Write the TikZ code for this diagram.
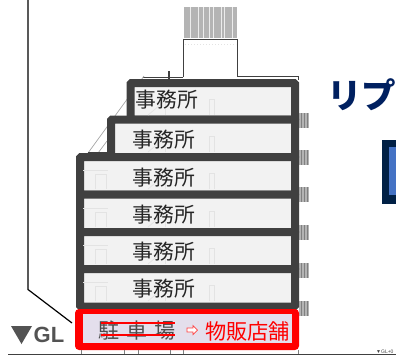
\documentclass[tikz,border=0pt]{standalone}
\usepackage{fontspec}
\usepackage{xcolor}
\setmainfont{Noto Sans CJK JP}
\newfontfamily\glfont{Liberation Sans}
\definecolor{slab}{HTML}{404040}
\definecolor{room}{HTML}{F2F2F2}
\definecolor{shop}{HTML}{E4DFEC}
\definecolor{navy}{HTML}{002060}
\definecolor{deepnavy}{HTML}{002045}
\definecolor{panel}{HTML}{4472C4}
\definecolor{hatch}{HTML}{B4B4B4}
\definecolor{faint}{HTML}{E3E3E3}
\usetikzlibrary{positioning}
\usetikzlibrary{calc}
\tikzset{
	floor/.style={draw=slab, line width=8pt, fill=room, rounded corners=1pt},
	office/.style={font=\fontsize{20.8}{20}\selectfont, text=black!85, inner sep=0pt},
	shoplabel/.style={font=\fontsize{21.2}{20}\selectfont, text=red, inner sep=0pt},
	rail/.style={fill=hatch, draw=none},
	partition/.style={draw=faint, line width=0.7pt},
}
\begin{document}
\begin{tikzpicture}[x=1pt, y=-1pt]
\useasboundingbox (0,0) rectangle (396,357);

\coordinate (boundary top) at (28,0);
\coordinate (boundary bend) at (28,289.5);
\coordinate (boundary end) at (72,323);
\coordinate (ground left) at (8,354);
\coordinate (ground right) at (396,354);

% penthouse and roof
\fill[rail] (184,7) rectangle (237,38);
\foreach \x in {190,198,203,209,213,221,224,232}
	\draw[white!85!gray, line width=0.7pt] (\x,7) -- (\x,38);
\draw[slab, line width=1pt] (183.5,77) -- (183.5,39) -- (237,39) -- (237,76) -- (298,76) -- (298,80);
\draw[faint, dotted, line width=1pt] (185,44.5) -- (236,44.5);
\draw[slab, line width=1pt] (143,77) -- (183,77);
\draw[slab, line width=2.5pt] (169,71) -- (169,79);

% slope
\draw[gray!70, line width=0.7pt] (144,76) -- (88,153);
\draw[gray!70, line width=0.7pt] (107,141) -- (98,153);
\draw[slab, line width=1pt] (88,152.5) -- (107,152.5);

% rails on the right
\foreach \y in {113,150,187,225,263,301} {
	\fill[hatch] (299,\y) rectangle (309,\y+14.5);
	\foreach \x in {301,304,307}
		\draw[gray, line width=0.5pt] (\x,\y) -- (\x,\y+14.5);
}

% floors
\draw[floor] (130.5,83) rectangle (295,119.5);
\draw[floor] (111,119.5) rectangle (295,157);
\draw[floor] (80,157) rectangle (295,194.5);
\draw[floor] (80,194.5) rectangle (295,232);
\draw[floor] (80,232) rectangle (295,269);
\draw[floor] (80,269) rectangle (295,306.5);

% partitions
\foreach \y in {87,124,161,199,236,273} {
	\draw[partition] (209.5,\y+28) -- (209.5,\y+12) -- (214,\y+12) -- (214,\y+28);
	\draw[partition] (148,\y+28) -- (172,\y+8);
	\draw[partition] (165,\y+28) -- (165,\y+8);
}
\foreach \y in {161,199,236,273} {
	\draw[partition] (83,\y+9) -- (108,\y+9);
	\draw[partition] (95,\y+28) -- (95,\y+13) -- (106,\y+13) -- (106,\y+28);
}

% parking floor
\fill[red, rounded corners=4pt] (75,309) rectangle (299,350);
\fill[shop] (83,314) rectangle (292,343);
\draw[gray, line width=0.8pt] (81,350) -- (81,354) (124,350) -- (124,354) (138,350) -- (138,354);
\draw[gray, line width=0.8pt] (170,350) -- (170,354) (183,350) -- (183,354) (298,350) -- (298,354);

\node[office] (office six) at (167,100) {事務所};
\node[office] (office five) at (164,140) {事務所};
\node[office] (office four) at (164,178) {事務所};
\node[office] (office three) at (164,215) {事務所};
\node[office] (office two) at (164,252) {事務所};
\node[office] (office one) at (164,289) {事務所};

\node[font=\fontsize{21}{21}\selectfont, text=black!70, inner sep=0pt] (parking) at (137,331) {駐\kern7.5pt 車\kern7.5pt 場};
\draw[red, line width=1.2pt] (101,323) -- (175,323);
\draw[red, line width=1.2pt] (101,335) -- (175,335);
\draw[red!75, line width=0.7pt, fill=white] (187,328) -- (193,328) -- (193,325.5) -- (197.5,330) -- (193,334.5) -- (193,332) -- (187,332) -- cycle;
\node[shoplabel] (shop label) at (247.5,331) {物販店舗};

% ground
\draw[slab, line width=1pt] (ground left) -- (ground right);
\draw[black, line width=1.2pt] (boundary top) -- (boundary bend) -- (boundary end);

% level mark
\fill[slab!90] (11,326) -- (32,326) -- (21.5,344) -- cycle;
\node[font=\glfont\bfseries\fontsize{22}{22}\selectfont, text=slab!90, inner sep=0pt, anchor=west] (gl) at (33.5,334.5) {GL};
\node[font=\glfont\fontsize{5}{5}\selectfont, text=slab, inner sep=0pt, anchor=west] (gl small) at (376,351.5) {▼GL+0};

% title and panel
\node[font=\bfseries\fontsize{34.5}{36}\selectfont, text=navy, inner sep=0pt, anchor=west] (title) at (326.8,95) {リプ};
\fill[deepnavy] (382,140) rectangle (396,204);
\fill[panel] (389,147) rectangle (396,195);
\end{tikzpicture}
\end{document}
